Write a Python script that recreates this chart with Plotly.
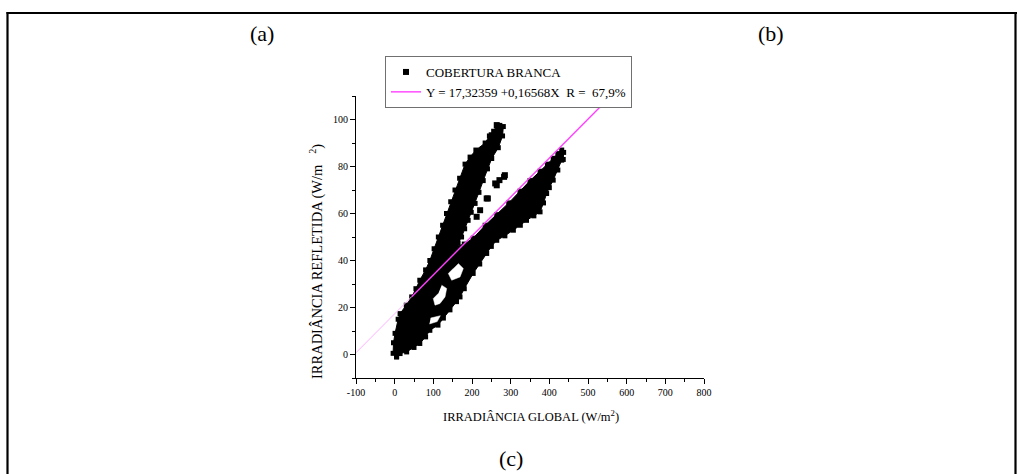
import plotly.graph_objects as go

# ---------------- data ----------------
# outline of the dense point cloud "COBERTURA BRANCA" (W/m2)
blob_x = [5, -4, -3, 1, 9, 14, 30, 44, 55, 65, 80, 91, 102, 113, 124, 134, 145, 156, 168, 182,
          195, 210, 234, 245, 256, 264, 272, 281, 279, 268, 251, 240, 229, 218, 208, 198, 190,
          181, 173, 164, 158, 180, 203, 234, 264, 295, 324, 350, 376, 395, 410, 422, 432, 437,
          436, 432, 422, 410, 400, 393, 385, 376, 360, 341, 325, 307, 285, 264, 250, 238, 220,
          203, 180, 169, 160, 143, 126, 112, 91, 80, 65, 50, 31, 14, 5]
blob_y = [-1, 0.5, 5, 9, 15, 17.4, 21, 24.5, 28, 31.6, 36, 40, 45, 50, 55, 60, 65, 70, 75, 81,
          84, 87, 90, 93, 95, 97.6, 97.5, 97, 93, 88, 83.4, 79, 74, 69, 64.3, 60.5, 57.1,
          53.5, 50, 47.5, 46, 47, 49.5, 55, 59.5, 64.5, 69.5, 74, 78, 81, 83.5, 85.5, 87, 86,
          83, 82.7, 78.5, 74.2, 71, 68.5, 64.5, 60.7, 59, 57.1, 55, 52.9, 50.5, 48.6, 46, 43, 38.5,
          34.5, 28, 24.5, 22.5, 19, 15.5, 12.5, 10.3, 7.5, 4.7, 3, 1.1, 0.4, -1]

# white gaps inside the cloud (separated by None)
gap_x = [121.6, 134.5, 130.2, 117.2, 104.3, 99.9, 112.9, None,
         164.6, 177.5, 169, 147.5, 138.7, 151.6, None,
         93, 118, 110, 90]
gap_y = [29.5, 28.1, 24.5, 21.7, 21, 23.8, 26, None,
         38.7, 36.6, 33, 31.6, 34.5, 36.6, None,
         15.5, 16.5, 14, 13]

# isolated points
pts_x = [264, 271, 251, 283, 271, 264, 241, 221, 212, 285, 260, 238]
pts_y = [97.6, 95.2, 93.3, 75.6, 74.2, 72, 66.4, 61.4, 58.6, 76.3, 72.8, 66.4]

# fitted line Y = 17,32359 + 0,16568X (end points)
fit_lo_x = [-100, 44]
fit_lo_y = [0.76, 24.61]
fit_hi_x = [44, 559.4]
fit_hi_y = [24.61, 110.0]

series_name = "COBERTURA BRANCA"
fit_name = "Y = 17,32359 +0,16568X\u00a0 R =\u00a0\u00a067,9%"

x_ticks = list(range(-100, 801, 100))
y_ticks = list(range(0, 101, 20))
x_ticktext = [str(v) for v in x_ticks]
y_ticktext = [str(v) for v in y_ticks]

# ---------------- layout geometry (pixels) ----------------
W, H = 1017, 474
PL, PR, PT, PB = 356, 704, 96, 378  # plot area


def px(xp):
    return (xp - PL) / (PR - PL)


def py(yp):
    return (PB - yp) / (PB - PT)


SERIF = "Liberation Serif, Times New Roman, serif"

fig = go.Figure()

fig.add_trace(go.Scatter(
    x=blob_x, y=blob_y, mode="lines+markers", fill="toself",
    fillcolor="black", line=dict(color="black", width=1),
    marker=dict(symbol="square", size=5, color="black"),
    showlegend=False, hoverinfo="skip"))

fig.add_trace(go.Scatter(
    x=gap_x, y=gap_y, mode="lines", fill="toself",
    fillcolor="white", line=dict(color="white", width=0.5),
    showlegend=False, hoverinfo="skip"))

fig.add_trace(go.Scatter(
    x=pts_x, y=pts_y, mode="markers", name=series_name,
    marker=dict(symbol="square", size=6, color="black")))

fig.add_trace(go.Scatter(
    x=fit_lo_x, y=fit_lo_y, mode="lines",
    line=dict(color="#ffb0ff", width=1), showlegend=False))

fig.add_trace(go.Scatter(
    x=fit_hi_x, y=fit_hi_y, mode="lines", name=fit_name,
    line=dict(color="#ff40ff", width=1.4)))

axis_common = dict(
    showline=True, linecolor="black", linewidth=1,
    ticks="outside", ticklen=5, tickwidth=1, tickcolor="black",
    showgrid=False, zeroline=False, mirror=False,
    tickfont=dict(family=SERIF, size=10, color="black"),
)

fig.update_xaxes(range=[-100, 800], tickvals=x_ticks, ticktext=x_ticktext,
                 minor=dict(dtick=50, tick0=-50, ticks="outside", ticklen=3,
                            tickcolor="black", tickwidth=1, showgrid=False),
                 **axis_common)
fig.update_yaxes(range=[-10, 110], tickvals=y_ticks, ticktext=y_ticktext,
                 minor=dict(dtick=10, tick0=0, ticks="outside", ticklen=3,
                            tickcolor="black", tickwidth=1, showgrid=False),
                 **axis_common)

annotations = [
    dict(text="IRRADIÂNCIA GLOBAL (W/m<sup>2</sup>)", x=px(531), y=py(416),
         font=dict(family=SERIF, size=12.5, color="black")),
    dict(text="IRRADIÂNCIA REFLETIDA (W/m\u00a0\u00a0\u00a0<sup>2</sup>)", x=px(316), y=py(262),
         textangle=-90, font=dict(family=SERIF, size=14.5, color="black")),
    dict(text="(a)", x=px(262), y=py(33), font=dict(family=SERIF, size=22, color="black")),
    dict(text="(b)", x=px(771), y=py(33), font=dict(family=SERIF, size=22, color="black")),
    dict(text="(c)", x=px(511), y=py(458), font=dict(family=SERIF, size=22, color="black")),
]
for a in annotations:
    a.update(xref="paper", yref="paper", showarrow=False, xanchor="center", yanchor="middle")

frame = dict(type="line", xref="paper", yref="paper", line=dict(color="black", width=2.2))
shapes = [
    dict(frame, x0=px(7.5), x1=px(7.5), y0=py(12), y1=py(480)),
    dict(frame, x0=px(6.5), x1=px(1017), y0=py(13), y1=py(13)),
    dict(frame, x0=px(1015.5), x1=px(1015.5), y0=py(12), y1=py(480)),
]

fig.update_layout(
    width=W, height=H,
    margin=dict(l=PL, r=W - PR, t=PT, b=H - PB, pad=0),
    plot_bgcolor="white", paper_bgcolor="white",
    font=dict(family=SERIF, color="black"),
    legend=dict(x=px(385), y=py(56), xanchor="left", yanchor="top",
                bordercolor="#707070", borderwidth=1, bgcolor="white",
                font=dict(family=SERIF, size=13, color="black"),
                tracegroupgap=0, itemwidth=30),
    annotations=annotations,
    shapes=shapes,
)

fig.write_html("out.html")
